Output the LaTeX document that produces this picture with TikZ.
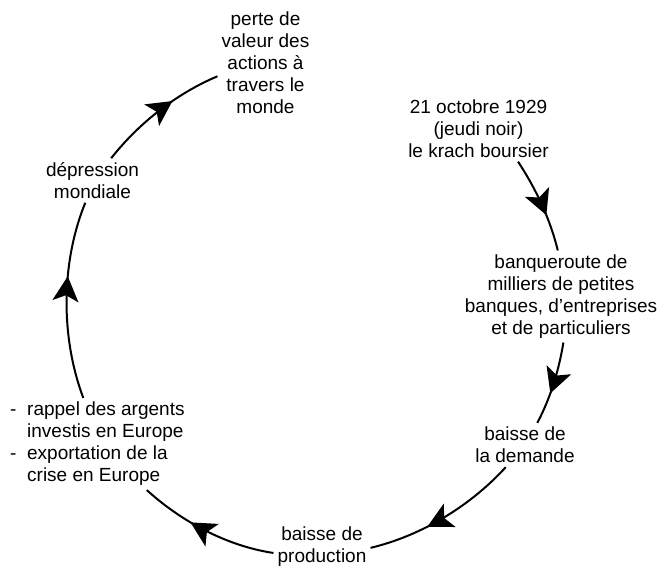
\documentclass[tikz,border=0pt]{standalone}
\usepackage{fontspec}
\setmainfont{Liberation Sans}
\usepackage{tikz}
\usetikzlibrary{arrows.meta, decorations.markings}

\begin{document}
\begin{tikzpicture}[
    x=1pt, y=1pt,
    stage/.style={align=center, inner sep=4pt, font=\fontsize{19}{22}\selectfont},
    flow/.style={line width=2pt, looseness=0.85,
        postaction={decorate, decoration={markings,
            mark=at position 0.62 with {\arrow{Stealth[length=25pt, width=26pt, inset=6pt]}}}}}
]
    \useasboundingbox (0,0) rectangle (662,-567);

    \node[stage] (perte) at (265.5,-62.5) {perte de\\valeur des\\actions à\\travers le\\monde};
    \node[stage] (krach) at (478.5,-128.5) {21 octobre 1929\\(jeudi noir)\\le krach boursier};
    \node[stage] (banqueroute) at (561,-296.5) {banqueroute de\\milliers de petites\\banques, d'entreprises\\et de particuliers};
    \node[stage] (demande) at (525,-445) {baisse de\\la demande};
    \node[stage] (production) at (322,-547) {baisse de\\production};
    \node[stage, anchor=west, align=left] (rappel) at (6,-444) {\makebox[17pt][l]{-}rappel des argents\\\hspace*{17pt}investis en Europe\\\makebox[17pt][l]{-}exportation de la\\\hspace*{17pt}crise en Europe};
    \node[stage] (depression) at (92.5,-180.5) {dépression\\mondiale};

    \draw[flow] (krach.-40.8) to[out=-56.6, in=103.6] (banqueroute.94.5);
    \draw[flow] (banqueroute.-87.7) to[out=-99.4, in=61.9] (demande.61.4);
    \draw[flow] (demande.-131.8) to[out=-132.3, in=13.4] (production.-1);
    \draw[flow] (production.187.6) to[out=171.5, in=-42.3] (rappel.-43.2);
    \draw[flow] (rappel.107.1) to[out=110.6, in=247.9] (depression.-108.7);
    \draw[flow] (depression.50.7) to[out=51.8, in=202.9] (perte.196.6);
\end{tikzpicture}
\end{document}
